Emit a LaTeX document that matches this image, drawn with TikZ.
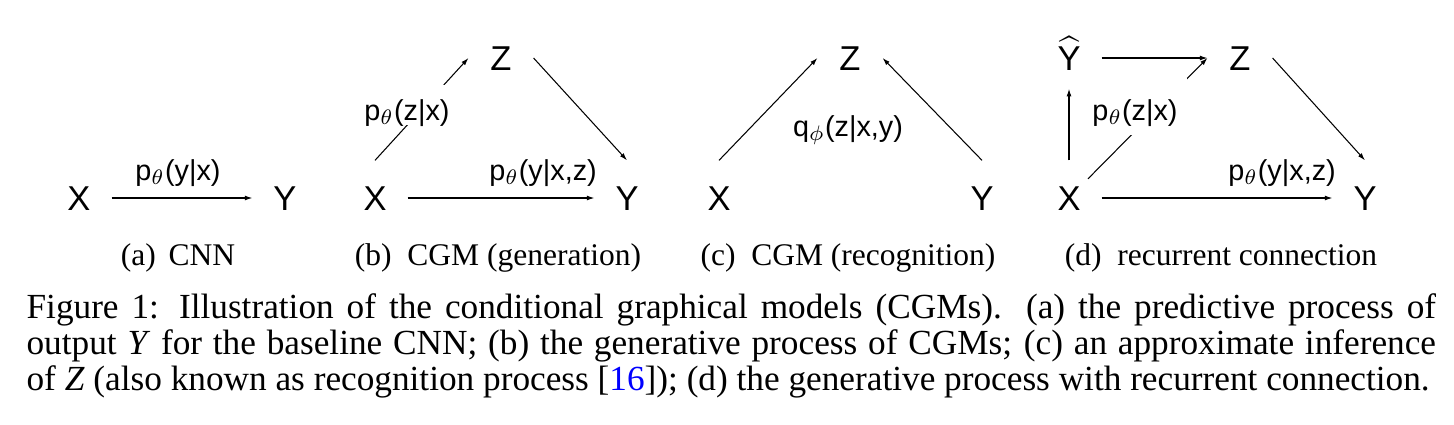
\documentclass[tikz,border=0pt]{standalone}
\usepackage{fontspec}
\setmainfont{Liberation Serif}
\newfontfamily\sansf{Liberation Sans}
\usepackage{amsmath}
\usetikzlibrary{arrows.meta}

\begin{document}
\begin{tikzpicture}[x=0.3333pt,y=-0.3333pt,
        var/.style={font=\sansf\fontsize{11.5}{13}\selectfont,inner sep=0pt,minimum width=21.3pt,minimum height=24.7pt,text height=8.3pt,text depth=0pt},
        lbl/.style={font=\sansf\fontsize{9.6}{11}\selectfont,anchor=base,inner sep=0pt},
        gap/.style={fill=white,inner xsep=2pt,inner ysep=0pt,text height=11.5pt,text depth=1.7pt},
        sublbl/.style={font=\fontsize{10.5}{12}\selectfont,anchor=base,inner sep=0pt},
        arr/.style={-{Latex[length=2.5pt,width=1.6pt]},line width=0.35pt}]
        \useasboundingbox (0,0) rectangle (1454,424);
        \node[var] (Xa) at (79,198) {X};
        \node[var] (Ya) at (285,198) {Y};
        \draw[arr] (Xa.east)--(Ya.west);
        \node[lbl] (la) at (178,180) {p$_\theta$(y|x)};
        \node[var] (Xb) at (375,198) {X};
        \node[var] (Yb) at (627,198) {Y};
        \node[var] (Zb) at (501,58) {Z};
        \draw[arr] (Xb.north)--(Zb.west);
        \draw[arr] (Zb.east)--(Yb.north);
        \draw[arr] (Xb.east)--(Yb.west);
        \node[lbl,gap] (lb1) at (407,120) {p$_\theta$(z|x)};
        \node[lbl] (lb2) at (543,180) {p$_\theta$(y|x,z)};
        \node[var] (Xc) at (719,198) {X};
        \node[var] (Yc) at (982,198) {Y};
        \node[var] (Zc) at (850,58) {Z};
        \draw[arr] (Xc.north)--(Zc.west);
        \draw[arr] (Yc.north)--(Zc.east);
        \node[lbl] (lc) at (848,136) {q$_\phi$(z|x,y)};
        \node[var] (Xd) at (1069,198) {X};
        \node[var] (Yhat) at (1069,58) {$\widehat{\mbox{Y}}$};
        \node[var] (Zd) at (1240,58) {Z};
        \node[var] (Yd) at (1365,198) {Y};
        \draw[arr,shorten >=-2.3pt] (Xd.north)--(Yhat.south);
        \draw[arr] (Yhat.east)--(Zd.west);
        \draw[arr,shorten <=9pt] (Xd.center)--(Zd.west);
        \draw[arr] (Zd.east)--(Yd.north);
        \draw[arr] (Xd.east)--(Yd.west);
        \node[lbl,gap,inner xsep=3pt,text height=14pt,text depth=5pt] (ld1) at (1135,120) {p$_\theta$(z|x)};
        \node[lbl] (ld2) at (1282,180) {p$_\theta$(y|x,z)};
        \foreach \x/\n/\t in {178/suba/{(a)\hspace{0.4em}CNN},498/subb/{(b)\enspace CGM (generation)},848/subc/{(c)\enspace CGM (recognition)},1221/subd/{(d)\enspace recurrent connection}}{\node[sublbl] (\n) at (\x,265) {\t};}
        \node[anchor=base west,text width=469.75pt,align=justify,inner sep=0pt,font=\fontsize{11.75}{12}\selectfont] (caption) at (26,318) {Figure 1: Illustration of the conditional graphical models (CGMs). (a) the predictive process of\linebreak output \textit{Y} for the baseline CNN; (b) the generative process of CGMs; (c) an approximate inference\linebreak of \textit{Z} (also known as recognition process [\textcolor{blue}{16}]); (d) the generative process with recurrent connection.};
      \end{tikzpicture}
\end{document}
